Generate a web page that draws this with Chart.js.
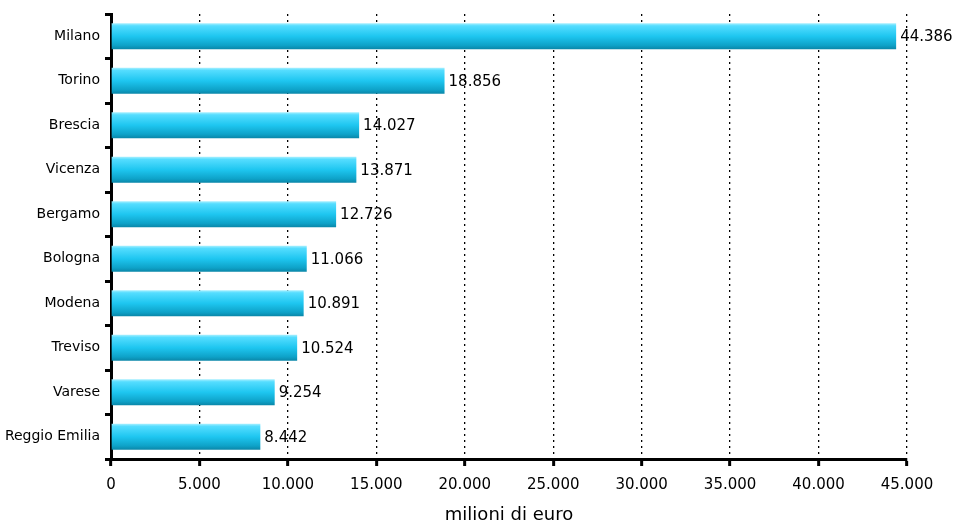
<!DOCTYPE html>
<html>
<head>
<meta charset="utf-8">
<script src="https://cdn.jsdelivr.net/npm/chart.js@4/dist/chart.umd.min.js"></script>
<style>
  html, body { margin: 0; padding: 0; background: #fff; }
  #wrap { width: 961px; height: 531px; position: relative; }
</style>
</head>
<body>
<div id="wrap"><canvas id="chart"></canvas></div>
<script>
const cities = ["Milano", "Torino", "Brescia", "Vicenza", "Bergamo", "Bologna", "Modena", "Treviso", "Varese", "Reggio Emilia"];
const values = [44386, 18856, 14027, 13871, 12726, 11066, 10891, 10524, 9254, 8442];
const axisTitle = "milioni di euro";

const FONT = "Verdana, 'DejaVu Sans', sans-serif";

function fmtNum(v) {
    let s = String(Math.round(v));
    return s.replace(/\B(?=(\d{3})+(?!\d))/g, ".");
}

function barFill(ctx) {
    let chart = ctx.chart;
    if (!chart.chartArea) return "#22ccf5";
    let y = chart.scales.y.getPixelForValue(ctx.dataIndex);
    let h = 26;
    let g = chart.ctx.createLinearGradient(0, y - h/2, 0, y + h/2);
    g.addColorStop(0, "#a8f0ff");
    g.addColorStop(0.1, "#55ddff");
    g.addColorStop(0.5, "#1ec6f0");
    g.addColorStop(0.85, "#0ea2c8");
    g.addColorStop(1, "#0a86a8");
    return g;
}

// value labels at the end of each bar
const valueLabels = {
    id: "valueLabels",
    afterDatasetsDraw(chart) {
        let c = chart.ctx;
        let meta = chart.getDatasetMeta(0);
        c.save();
        c.font = "15px " + FONT;
        c.fillStyle = "#000";
        c.textAlign = "left";
        c.textBaseline = "middle";
        meta.data.forEach((bar, i) => {
            c.fillText(fmtNum(values[i]), bar.x + 4, bar.y + 1);
        });
        c.restore();
    }
};

const config = {
    type: "bar",
    data: {
        labels: cities,
        datasets: [{
            data: values,
            backgroundColor: barFill,
            borderWidth: 0,
            barPercentage: 1,
            categoryPercentage: 0.585,
        }]
    },
    options: {
        indexAxis: "y",
        responsive: true,
        maintainAspectRatio: false,
        animation: false,
        layout: { padding: { left: 0, right: 54, top: 14, bottom: 0 } },
        plugins: {
            legend: { display: false },
            tooltip: { enabled: false },
        },
        scales: {
            x: {
                min: 0,
                max: 45000,
                ticks: {
                    stepSize: 5000,
                    color: "#000",
                    font: { family: FONT, size: 15 },
                    padding: 10,
                    callback: v => fmtNum(v),
                },
                grid: {
                    color: "#000",
                    lineWidth: 1.3,
                    drawTicks: true,
                    tickLength: 7,
                    tickColor: "#000",
                    tickWidth: 3,
                    tickBorderDash: [],
                },
                border: { display: true, color: "#000", width: 3, dash: [2, 4] },
                title: {
                    display: true,
                    text: axisTitle,
                    color: "#000",
                    font: { family: FONT, size: 18 },
                    padding: { top: 8, bottom: 5 },
                },
                afterFit: s => { s.height = 72; },
            },
            y: {
                ticks: {
                    color: "#000",
                    font: { family: FONT, size: 14 },
                    padding: 5,
                },
                grid: {
                    offset: true,
                    drawOnChartArea: false,
                    drawTicks: true,
                    tickLength: 6,
                    tickColor: "#000",
                    tickWidth: 3,
                },
                border: { display: true, color: "#000", width: 3 },
                afterFit: s => { s.width = 111; },
            },
        },
    },
    plugins: [valueLabels],
};

new Chart(document.getElementById("chart"), config);
</script>
</body>
</html>
